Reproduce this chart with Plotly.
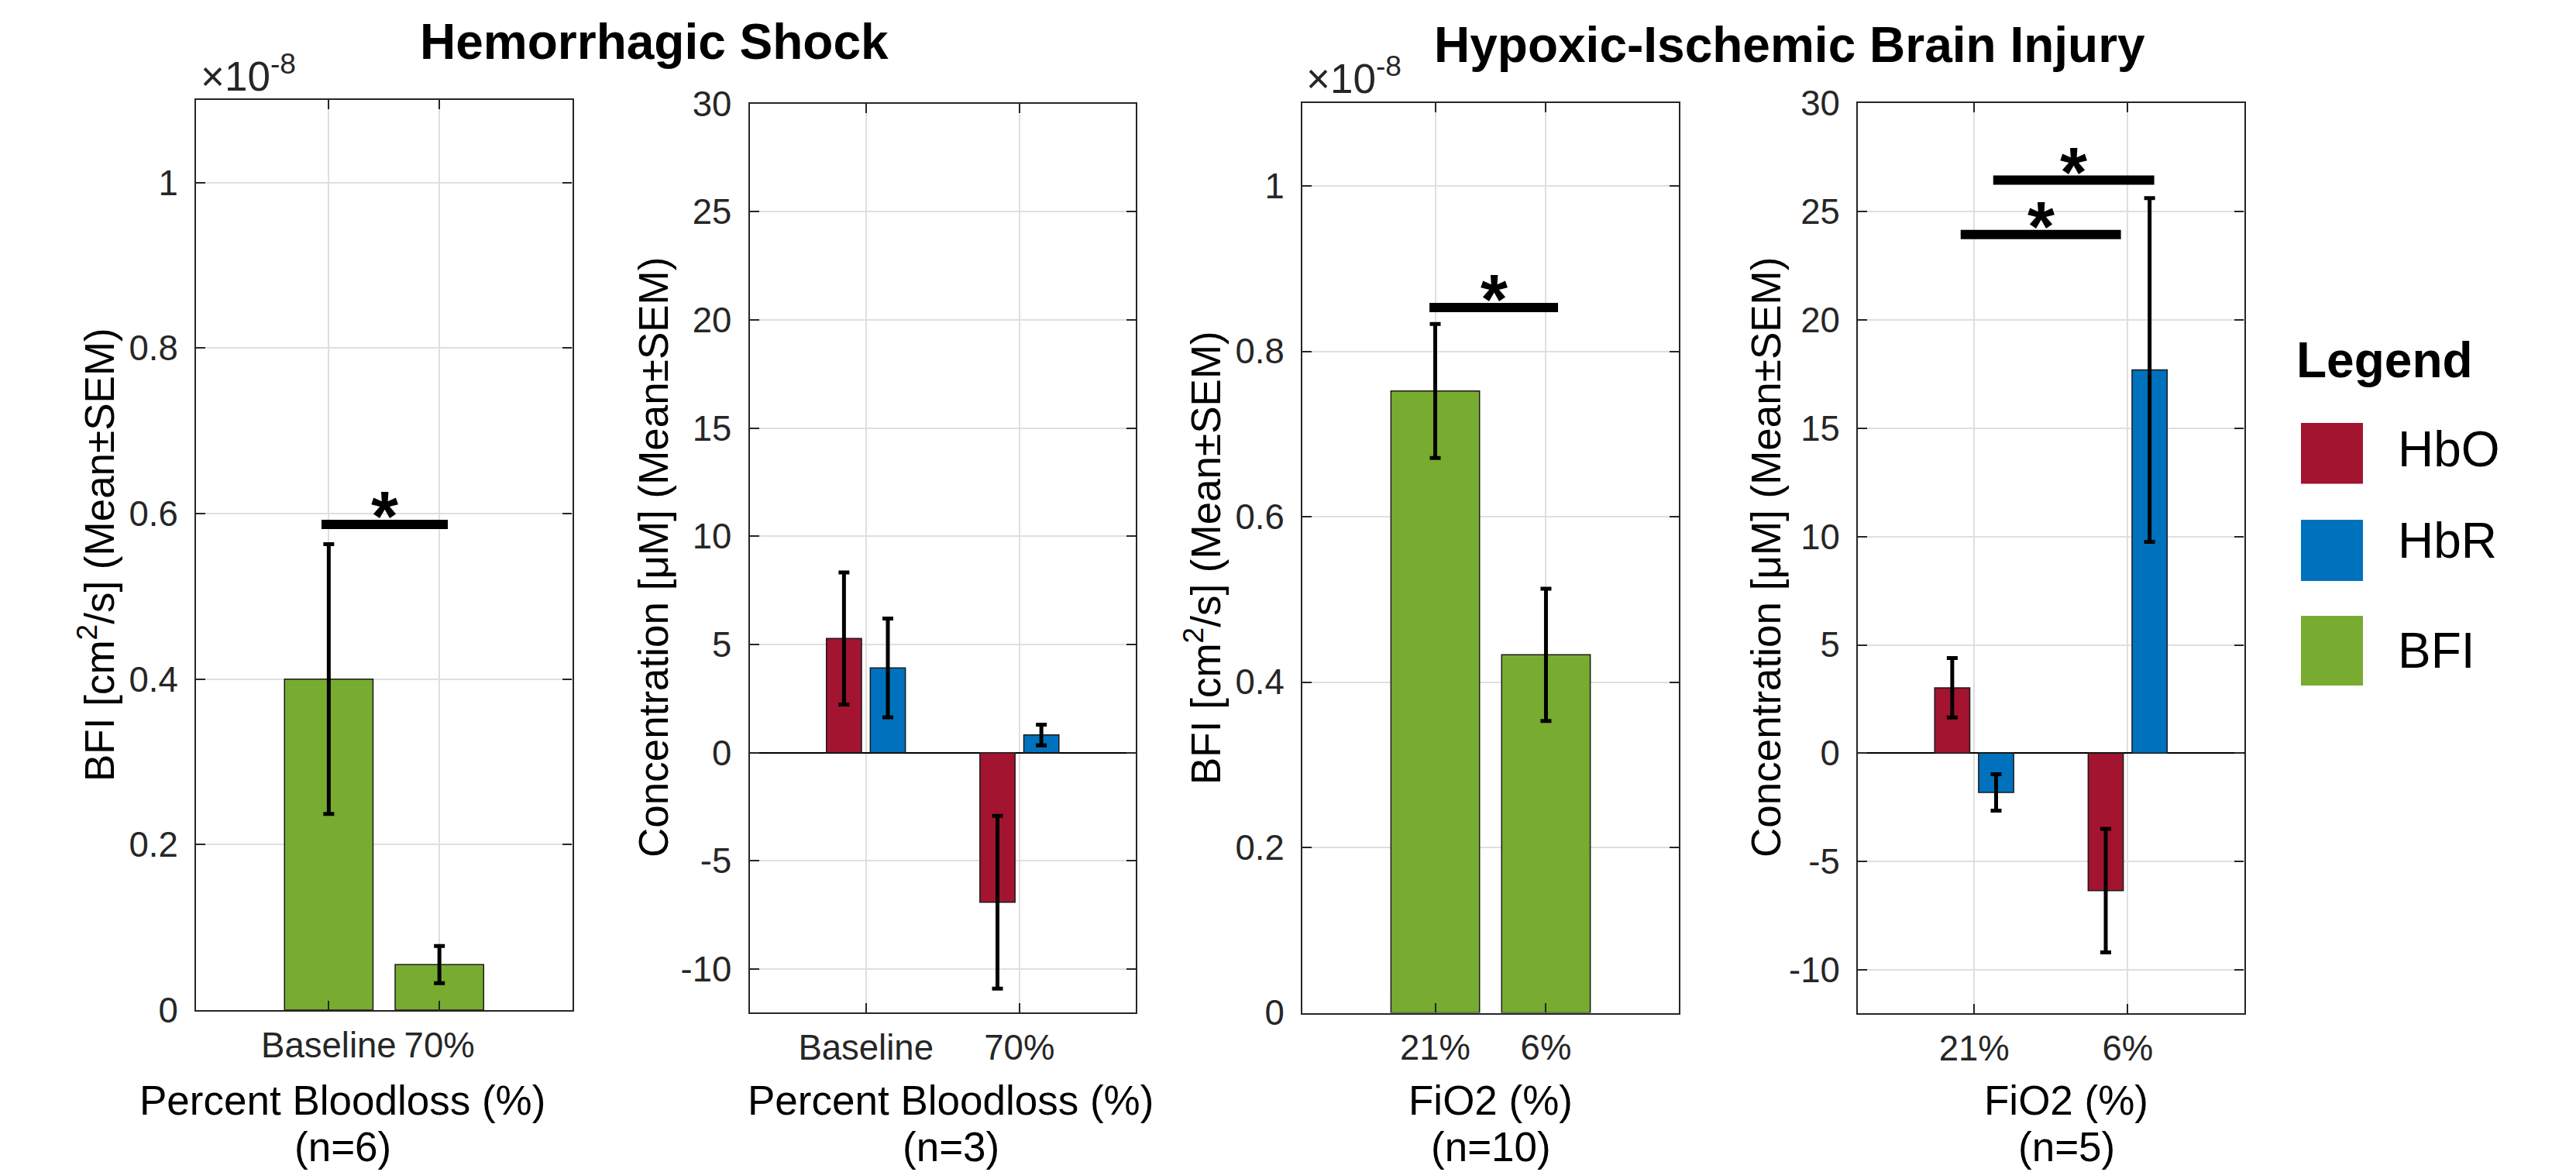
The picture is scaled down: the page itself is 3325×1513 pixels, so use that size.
import plotly.graph_objects as go

# ---------------- data ----------------
hs_conditions = ["Baseline", "70%"]
hii_conditions = ["21%", "6%"]

# BFI in units of 1e-8 cm^2/s
hs_bfi_mean = [0.400, 0.055]
hs_bfi_sem = [0.163, 0.0225]
hii_bfi_mean = [0.752, 0.433]
hii_bfi_sem = [0.081, 0.080]

# Concentration changes (uM)
hs_hbo_mean = [5.28, -6.91]
hs_hbo_sem = [3.05, 3.99]
hs_hbr_mean = [3.92, 0.82]
hs_hbr_sem = [2.28, 0.48]

hii_hbo_mean = [3.02, -6.34]
hii_hbo_sem = [1.37, 2.85]
hii_hbr_mean = [-1.81, 17.69]
hii_hbr_sem = [0.84, 7.93]

n_hs_bfi, n_hs_conc, n_hii_bfi, n_hii_conc = 6, 3, 10, 5

bfi_ticks = [0, 0.2, 0.4, 0.6, 0.8, 1]
bfi_ticktext = ["0", "0.2", "0.4", "0.6", "0.8", "1"]
conc_ticks = [-10, -5, 0, 5, 10, 15, 20, 25, 30]
conc_ticktext = ["-10", "-5", "0", "5", "10", "15", "20", "25", "30"]

# significance brackets: (panel, x_start, x_end, y)
sig_brackets = [
    (1, 0.934, 2.076, 0.587),
    (3, 0.948, 2.109, 0.853),
    (4, 0.912, 1.956, 23.94),
    (4, 1.124, 2.173, 26.45),
]

legend_items = ["HbO", "HbR", "BFI"]

# ---------------- style ----------------
W, H = 3325, 1513
FONT = "Liberation Sans, Arial, Helvetica, sans-serif"
AX = "#262626"
GRID = "#dfdfdf"
COL = {"HbO": "#A2142F", "HbR": "#0072BD", "BFI": "#77AC30"}
TICK_SIZE = 45.5
LABEL_SIZE = 53
TITLE_SIZE = 64

# axes boxes in pixels: (left, right, top, bottom)
boxes = {
    1: (253, 738.5, 129, 1304),
    2: (967.5, 1466, 133.7, 1307),
    3: (1681, 2167, 133.3, 1307.5),
    4: (2398, 2896.5, 133.3, 1308),
}
xranges = {1: [-0.2, 3.2], 2: [0.242, 2.758], 3: [-0.2, 3.2], 4: [0.242, 2.758]}
yranges = {1: [0, 1.1], 2: [-12, 30], 3: [0, 1.1], 4: [-12, 30]}
xticktext = {1: hs_conditions, 2: hs_conditions, 3: hii_conditions, 4: hii_conditions}

GROUP_OFFSET = 0.1429
GROUP_WIDTH = 0.2286
SINGLE_WIDTH = 0.8


def px_x(p):
    return p / W


def px_y(p):
    return 1 - p / H


def err(arr):
    return dict(type="data", array=arr, symmetric=True, color="black",
                thickness=5, width=7, visible=True)


fig = go.Figure()
bar_line = dict(color="#1a1a1a", width=1.5)
pos = [1, 2]

# Panel 1: HS BFI
fig.add_trace(go.Bar(x=pos, y=hs_bfi_mean, width=SINGLE_WIDTH,
                     marker=dict(color=COL["BFI"], line=bar_line),
                     error_y=err(hs_bfi_sem), xaxis="x", yaxis="y", name="BFI"))
# Panel 2: HS concentration
fig.add_trace(go.Bar(x=[p - GROUP_OFFSET for p in pos], y=hs_hbo_mean, width=GROUP_WIDTH,
                     marker=dict(color=COL["HbO"], line=bar_line),
                     error_y=err(hs_hbo_sem), xaxis="x2", yaxis="y2", name="HbO"))
fig.add_trace(go.Bar(x=[p + GROUP_OFFSET for p in pos], y=hs_hbr_mean, width=GROUP_WIDTH,
                     marker=dict(color=COL["HbR"], line=bar_line),
                     error_y=err(hs_hbr_sem), xaxis="x2", yaxis="y2", name="HbR"))
# Panel 3: HII BFI
fig.add_trace(go.Bar(x=pos, y=hii_bfi_mean, width=SINGLE_WIDTH,
                     marker=dict(color=COL["BFI"], line=bar_line),
                     error_y=err(hii_bfi_sem), xaxis="x3", yaxis="y3", name="BFI"))
# Panel 4: HII concentration
fig.add_trace(go.Bar(x=[p - GROUP_OFFSET for p in pos], y=hii_hbo_mean, width=GROUP_WIDTH,
                     marker=dict(color=COL["HbO"], line=bar_line),
                     error_y=err(hii_hbo_sem), xaxis="x4", yaxis="y4", name="HbO"))
fig.add_trace(go.Bar(x=[p + GROUP_OFFSET for p in pos], y=hii_hbr_mean, width=GROUP_WIDTH,
                     marker=dict(color=COL["HbR"], line=bar_line),
                     error_y=err(hii_hbr_sem), xaxis="x4", yaxis="y4", name="HbR"))

axis_common = dict(showline=True, linecolor=AX, linewidth=2.3, mirror="allticks",
                   ticks="inside", ticklen=12, tickwidth=2.3, tickcolor=AX,
                   showgrid=True, gridcolor=GRID, gridwidth=1.5,
                   tickfont=dict(family=FONT, size=TICK_SIZE, color=AX),
                   fixedrange=True, automargin=False)

layout = dict(template="none", width=W, height=H, margin=dict(l=0, r=0, t=0, b=0, pad=0, autoexpand=False),
              paper_bgcolor="white", plot_bgcolor="white", showlegend=False,
              barmode="overlay", font=dict(family=FONT, color="black"))

for i, (l, r, t, b) in boxes.items():
    sfx = "" if i == 1 else str(i)
    layout["xaxis" + sfx] = dict(domain=[px_x(l), px_x(r)], anchor="y" + sfx,
                                 range=xranges[i], tickvals=pos, ticktext=xticktext[i],
                                 tickangle=0, zeroline=False, ticklabelstandoff=4,
                                 **axis_common)
    is_bfi = i in (1, 3)
    layout["yaxis" + sfx] = dict(domain=[px_y(b), px_y(t)], anchor="x" + sfx,
                                 range=yranges[i],
                                 tickvals=bfi_ticks if is_bfi else conc_ticks,
                                 ticktext=bfi_ticktext if is_bfi else conc_ticktext,
                                 zeroline=not is_bfi, zerolinecolor="black", zerolinewidth=2,
                                 ticklabelstandoff=12, **axis_common)

fig.update_layout(**layout)

ann = []
shapes = []

# titles
ann.append(dict(text="<b>Hemorrhagic Shock</b>", x=px_x(844), y=px_y(54), xref="paper", yref="paper",
                showarrow=False, xanchor="center", yanchor="middle",
                font=dict(size=TITLE_SIZE, color="black", family=FONT)))
ann.append(dict(text="<b>Hypoxic-Ischemic Brain Injury</b>", x=px_x(2310), y=px_y(58), xref="paper",
                yref="paper", showarrow=False, xanchor="center", yanchor="middle",
                font=dict(size=TITLE_SIZE, color="black", family=FONT)))

# x labels (two lines each)
xlabels = {
    1: ("Percent Bloodloss (%)", n_hs_bfi, 442),
    2: ("Percent Bloodloss (%)", n_hs_conc, 1227),
    3: ("FiO2 (%)", n_hii_bfi, 1924),
    4: ("FiO2 (%)", n_hii_conc, 2667),
}
for i, (txt, n, cx) in xlabels.items():
    for line, cy in ((txt, 1420), (f"(n={n})", 1480)):
        ann.append(dict(text=line, x=px_x(cx), y=px_y(cy), xref="paper", yref="paper",
                        showarrow=False, xanchor="center", yanchor="middle", borderpad=0,
                        font=dict(size=LABEL_SIZE, color="black", family=FONT)))

# y labels
ylabels = {
    1: ("BFI [cm<sup>2</sup>/s] (Mean±SEM)", 124, 716),
    2: ("Concentration [μM] (Mean±SEM)", 843, 720),
    3: ("BFI [cm<sup>2</sup>/s] (Mean±SEM)", 1552, 720),
    4: ("Concentration [μM] (Mean±SEM)", 2279, 720),
}
for i, (txt, cx, cy) in ylabels.items():
    ann.append(dict(text=txt, x=px_x(cx), y=px_y(cy), xref="paper", yref="paper",
                    showarrow=False, xanchor="center", yanchor="middle", textangle=-90,
                    font=dict(size=LABEL_SIZE, color="black", family=FONT)))

# exponent labels
for lx, base in ((257, 130), (1684, 133)):
    ann.append(dict(text="×10<sup>-8</sup>", x=px_x(lx), y=px_y(base), xref="paper", yref="paper",
                    showarrow=False, xanchor="left", yanchor="bottom",
                    font=dict(size=53, color=AX, family=FONT)))

# significance brackets and stars
for panel, xs, xe, yv in sig_brackets:
    sfx = "" if panel == 1 else str(panel)
    shapes.append(dict(type="line", xref="x" + sfx, yref="y" + sfx, x0=xs, x1=xe, y0=yv, y1=yv,
                       line=dict(color="black", width=12)))
    ann.append(dict(text="<b>*</b>", x=(xs + xe) / 2, y=yv, xref="x" + sfx, yref="y" + sfx,
                    showarrow=False, xanchor="center", yanchor="middle", yshift=10,
                    font=dict(size=90, color="black", family=FONT)))

# legend (drawn manually to match large swatches)
ann.append(dict(text="<b>Legend</b>", x=px_x(2962), y=px_y(465), xref="paper", yref="paper",
                showarrow=False, xanchor="left", yanchor="middle",
                font=dict(size=64, color="black", family=FONT)))
swatch_rows = [(546, 624.6, 580), (671, 750, 698), (795, 885, 840)]
for name, (t, b, ty) in zip(legend_items, swatch_rows):
    shapes.append(dict(type="rect", xref="paper", yref="paper", x0=px_x(2970), x1=px_x(3050),
                       y0=px_y(b), y1=px_y(t), fillcolor=COL[name], line=dict(width=0)))
    ann.append(dict(text=name, x=px_x(3093), y=px_y(ty), xref="paper", yref="paper",
                    showarrow=False, xanchor="left", yanchor="middle",
                    font=dict(size=64, color="black", family=FONT)))

fig.update_layout(annotations=ann, shapes=shapes)

fig.write_html("out.html", config={"displayModeBar": False},
               post_script="document.body.style.margin='0';document.body.style.overflow='hidden';")
